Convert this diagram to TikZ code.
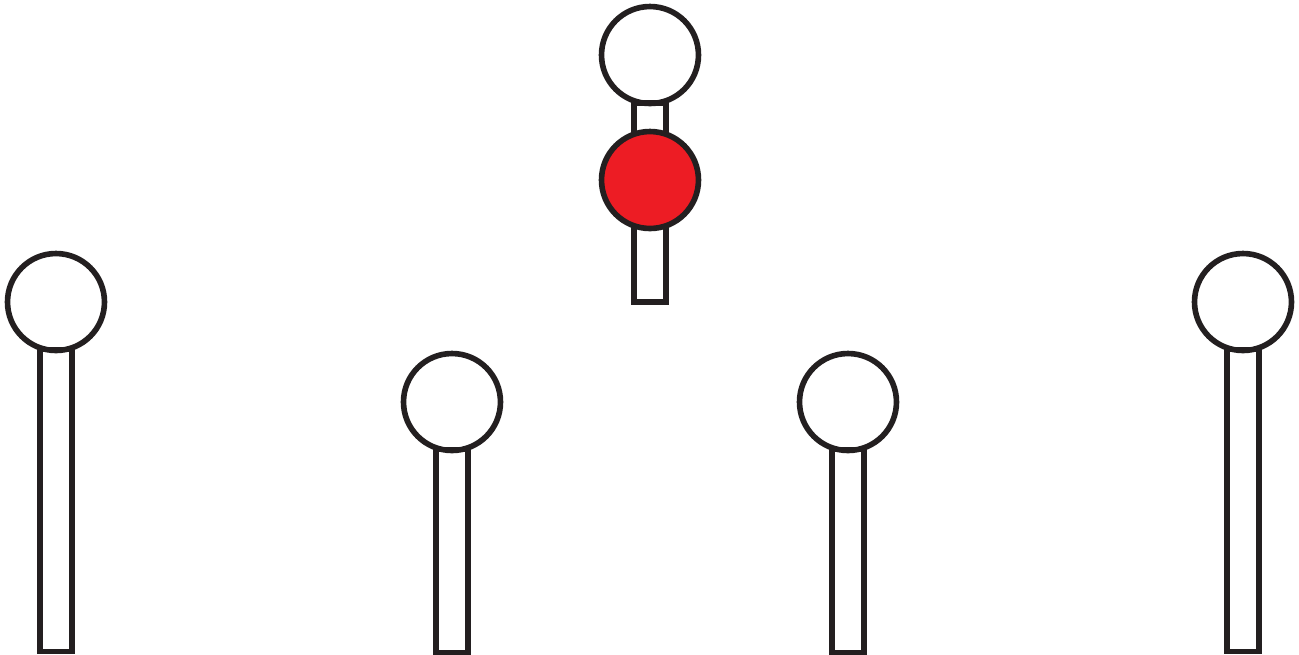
\documentclass[tikz,border=0pt]{standalone}
\usepackage{xcolor}
\definecolor{pinred}{RGB}{237,28,36}
\definecolor{pinline}{RGB}{35,31,32}
\tikzset{
  ball/.style={draw=pinline,line width=3.2pt,circle,fill=white,
               inner sep=0pt,minimum size=1.94cm},
  redball/.style={ball,fill=pinred},
  stick/.style={draw=pinline,line width=3.2pt,inner sep=0pt,outer sep=0pt,
                minimum width=0.64cm}
}
\begin{document}
\begin{tikzpicture}[x=0.02cm,y=-0.02cm]
    \useasboundingbox (0,0) rectangle (1299,654);

    % standing pins
    \foreach \name/\x/\y/\len in {a/56/302/6.04, b/452/402/4.06,
                                  c/848/402/4.06, d/1243/302/6.04} {
        \node[ball] (ball\name) at (\x,\y) {};
        \node[stick,minimum height=\len cm,anchor=north] (stick\name)
              at (\x,\y+47.5) {};
    }

    % top pin with the red ball on it
    \node[ball] (balltop) at (650,55) {};
    \node[stick,minimum height=3.98cm,anchor=north] (sticktop) at (650,103) {};
    \node[redball] (ballred) at (650,180) {};
\end{tikzpicture}
\end{document}
